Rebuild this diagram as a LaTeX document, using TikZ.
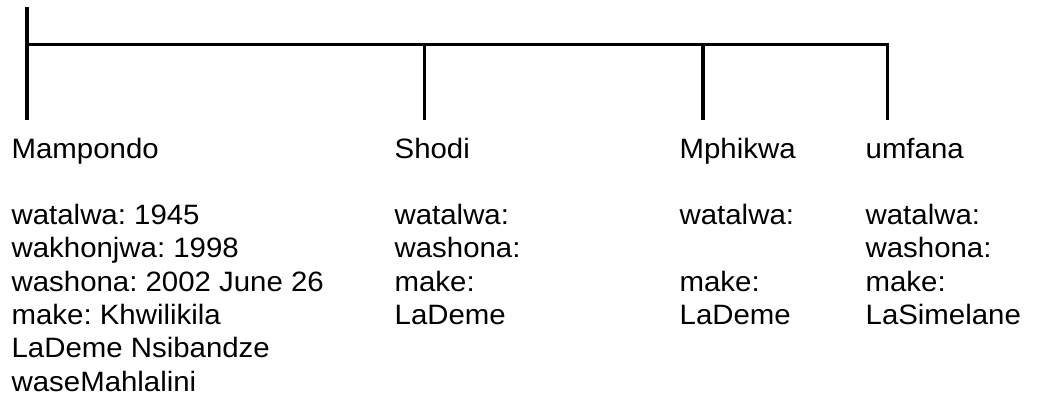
\documentclass[tikz,border=0pt]{standalone}
\usepackage{fontspec}
\setmainfont{Liberation Sans}[FakeStretch=1.05]
\frenchspacing
\usetikzlibrary{positioning}

\begin{document}
\begin{tikzpicture}[x=1pt, y=-1pt, line width=3.3pt,
  person/.style={anchor=base west, align=left, inner sep=0pt,
    font=\fontsize{28}{33.3}\selectfont}]
  \useasboundingbox (0,0) rectangle (1037,396);
  % family line
  \coordinate (top) at (27,7);
  \coordinate (bar-l) at (27,44.7);
  \coordinate (bar-r) at (887.7,44.7);
  \coordinate (drop-mampondo) at (27,120);
  \coordinate (drop-umfana) at (887.7,120);
  \draw (top) -- (drop-mampondo);
  \draw (bar-l) -- (bar-r) -- (drop-umfana);
  \foreach \n/\x in {shodi/424.7, mphikwa/703} {
    \coordinate (bar-\n) at (\x,44.7);
    \coordinate (drop-\n) at (\x,120);
    \draw (bar-\n) -- (drop-\n);
  }
  % Mampondo (base = last line)
  \node[person] (mampondo) at (10,391.1) {Mampondo\\[33.3pt]
    watalwa: 1945\\ wakhonjwa: 1998\\ washona: 2002 June 26\\
    make: Khwilikila\\ LaDeme Nsibandze\\ waseMahlalini};
  % Shodi
  \node[person] (shodi) at (393,324.5) {Shodi\\[33.3pt]
    watalwa:\\ washona:\\ make:\\ LaDeme};
  % Mphikwa
  \node[person] (mphikwa) at (678,324.5) {Mphikwa\\[33.3pt]
    watalwa:\\[33.3pt] make:\\ LaDeme};
  % umfana
  \node[person] (umfana) at (864,324.5) {umfana\\[33.3pt]
    watalwa:\\ washona:\\ make:\\ LaSimelane};
\end{tikzpicture}
\end{document}
